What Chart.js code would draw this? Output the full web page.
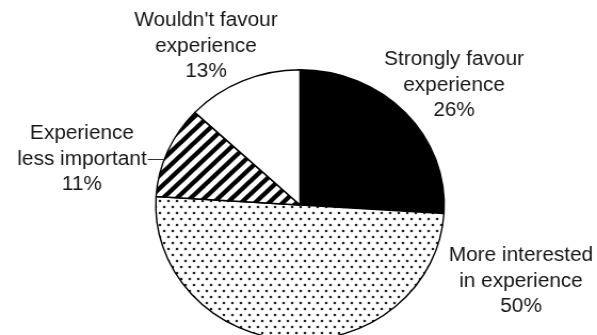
<!DOCTYPE html>
<html>
<head>
<meta charset="utf-8">
<script src="https://cdn.jsdelivr.net/npm/chart.js@4"></script>
<style>
  html, body { margin: 0; padding: 0; background: #fff; overflow: hidden; }
  body { width: 597px; height: 335px; }
  /* the source picture is a bit wider than tall, so stretch the whole chart */
  #wrap { width: 560px; height: 345px; transform: scaleX(1.0661); transform-origin: 0 0; }
</style>
</head>
<body>
<div id="wrap"><canvas id="chart"></canvas></div>
<script>
const categories = [
  ['Strongly favour', 'experience'],
  ['More interested', 'in experience'],
  ['Experience', 'less important'],
  ["Wouldn't favour", 'experience']
];
const shares = [26, 50, 11, 13];

function dotPattern() {
  const c = document.createElement('canvas');
  c.width = 8; c.height = 12;
  const g = c.getContext('2d');
  g.fillStyle = '#fff';
  g.fillRect(0, 0, 8, 12);
  g.fillStyle = '#222';
  [[2, 3], [6, 9]].forEach(([x, y]) => {
    g.beginPath();
    g.arc(x, y, 1.3, 0, Math.PI * 2);
    g.fill();
  });
  return g.createPattern(c, 'repeat');
}

function hatchPattern() {
  const p = 13;
  const c = document.createElement('canvas');
  c.width = p; c.height = p;
  const g = c.getContext('2d');
  g.fillStyle = '#fff';
  g.fillRect(0, 0, p, p);
  g.strokeStyle = '#000';
  g.lineWidth = 4.4;
  g.beginPath();
  g.moveTo(-2, 2); g.lineTo(2, -2);
  g.moveTo(0, p); g.lineTo(p, 0);
  g.moveTo(p - 2, p + 2); g.lineTo(p + 2, p - 2);
  g.stroke();
  return g.createPattern(c, 'repeat');
}

// label placement, relative to the pie centre: [x of text centre, first baseline]
const labelPlugin = {
  id: 'pieLabels',
  afterDatasetsDraw(chart, args, opts) {
    const ctx = chart.ctx;
    const arc = chart.getDatasetMeta(0).data[0];
    const cx = arc.x, cy = arc.y, r = arc.outerRadius;
    ctx.save();
    ctx.font = '19.5px "Liberation Sans", Arial, sans-serif';
    ctx.fillStyle = '#161616';
    ctx.textAlign = 'center';
    ctx.textBaseline = 'alphabetic';
    const lh = 25.5;
    categories.forEach((lines, i) => {
      const [dx, dy] = opts.anchors[i];
      const all = lines.concat([shares[i] + '%']);
      all.forEach((t, k) => ctx.fillText(t, cx + dx, cy + dy + k * lh));
      if (i === opts.leader) {
        const w = ctx.measureText(lines[1]).width;
        const y = cy + dy + lh - 5;
        const edge = cx - Math.sqrt(r * r - (y - cy) * (y - cy));
        ctx.strokeStyle = '#333';
        ctx.lineWidth = 1;
        ctx.beginPath();
        ctx.moveTo(cx + dx + w / 2 + 1, y);
        ctx.lineTo(edge, y);
        ctx.stroke();
      }
    });
    ctx.restore();
  }
};

new Chart(document.getElementById('chart').getContext('2d'), {
  type: 'pie',
  data: {
    labels: categories.map(l => l.join(' ')),
    datasets: [{
      data: shares,
      backgroundColor: ['#000', dotPattern(), hatchPattern(), '#fff'],
      borderColor: '#000',
      borderWidth: 1.4
    }]
  },
  options: {
    responsive: true,
    maintainAspectRatio: false,
    animation: false,
    events: [],
    layout: { padding: { left: 145.4, right: 142.6, top: 69, bottom: 4 } },
    plugins: {
      legend: { display: false },
      tooltip: { enabled: false },
      pieLabels: {
        anchors: [[144.5, -140], [207.3, 56], [-204.5, -66], [-88.2, -179]],
        leader: 2
      }
    }
  },
  plugins: [labelPlugin]
});
</script>
</body>
</html>
